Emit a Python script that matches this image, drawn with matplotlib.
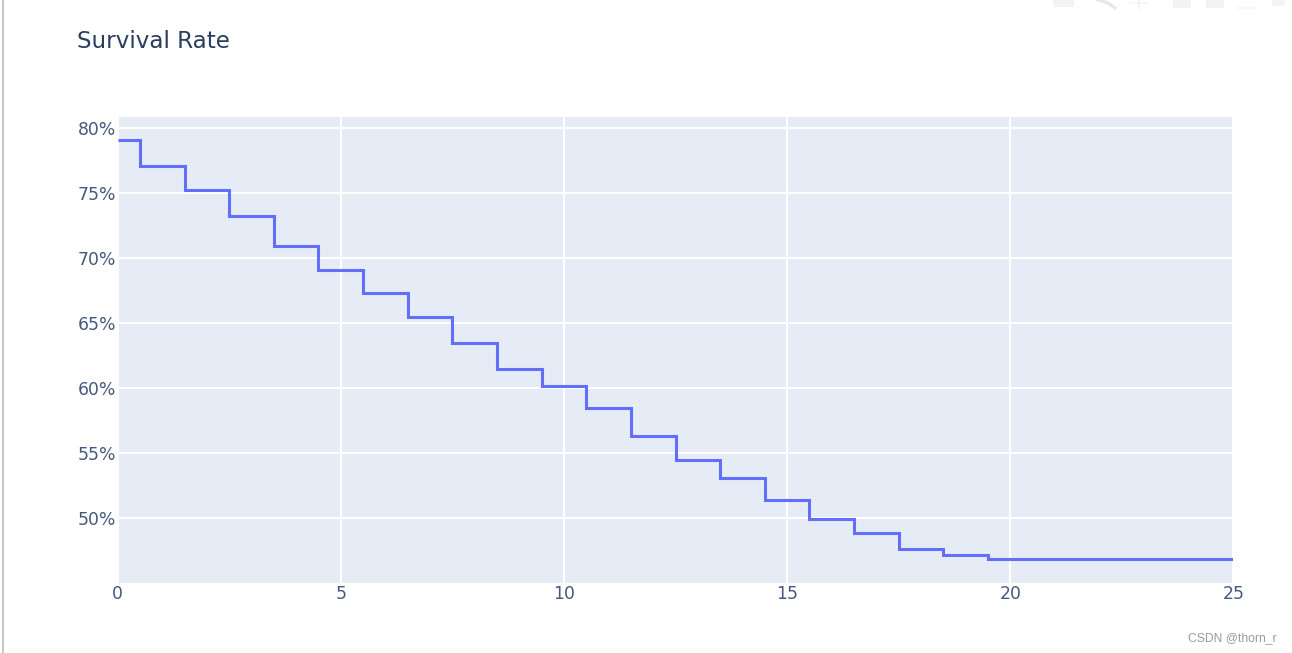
import matplotlib
matplotlib.use("Agg")
import matplotlib.pyplot as plt
from matplotlib.patches import Rectangle
from matplotlib.lines import Line2D

years = list(range(26))
survival = [79.08, 77.08, 75.2, 73.2, 70.95, 69.1, 67.3, 65.45, 63.45, 61.5,
            60.15, 58.5, 56.3, 54.45, 53.05, 51.4, 49.95, 48.85, 47.65, 47.15,
            46.85, 46.85, 46.85, 46.85, 46.85, 46.85]
x_ticks = [0, 5, 10, 15, 20, 25]
y_ticks = [50, 55, 60, 65, 70, 75, 80]
y_labels = ["50%", "55%", "60%", "65%", "70%", "75%", "80%"]
title = "Survival Rate"
watermark = "CSDN @thorn_r"

W, H = 1292, 653
fig = plt.figure(figsize=(W / 100, H / 100), dpi=100, facecolor="white")
ax = fig.add_axes([117.6 / W, 1 - 583 / H, (1233.4 - 117.6) / W, (583 - 117) / H])
ax.set_facecolor("#e5ecf6")
ax.set_xlim(0, 25)
ax.set_ylim(45.0, 80.85)
ax.set_xticks(x_ticks)
ax.set_yticks(y_ticks, y_labels)
ax.grid(True, color="white", linewidth=1.5)
ax.set_axisbelow(True)
for s in ax.spines.values():
    s.set_visible(False)
ax.tick_params(length=0, labelsize=12.4, labelcolor="#46597c")
ax.tick_params(axis="y", pad=1.2)
ax.tick_params(axis="x", pad=1.5)
ax.plot(years, survival, drawstyle="steps-mid", color="#636efa", linewidth=2.2,
        solid_joinstyle="miter", solid_capstyle="butt", clip_on=True)

fig.text(77 / W, 1 - 41 / H, title, fontsize=16.6, color="#2a3f5f", va="center", ha="left")
fig.text(1277 / W, 1 - 638 / H, watermark, fontsize=8.7, color="#9a9a9a", va="center", ha="right",
         family="Liberation Sans")

# window edge at left
fig.add_artist(Line2D([2.5 / W, 2.5 / W], [0, 1], color="#c8c8c8", linewidth=1.5))
# faint modebar icons cropped by the top edge
for x0, x1, y1 in [(1053, 1074, 7), (1173, 1191, 8), (1206, 1224, 8), (1272, 1285, 6)]:
    fig.add_artist(Rectangle((x0 / W, 1 - y1 / H), (x1 - x0) / W, y1 / H, color="#f3f3f3", lw=0))
fig.add_artist(Line2D([1098 / W, 1108 / W, 1115 / W], [1, 1 - 3 / H, 1 - 8 / H], color="#e8e8e8", linewidth=2.4))
fig.add_artist(Line2D([1138.5 / W, 1138.5 / W], [1, 1 - 8 / H], color="#f3f3f3", linewidth=1.5))
fig.add_artist(Line2D([1130 / W, 1147 / W], [1 - 3 / H, 1 - 3 / H], color="#f6f6f6", linewidth=1.2))
fig.add_artist(Line2D([1237 / W, 1257 / W], [1 - 8 / H, 1 - 8 / H], color="#f6f6f6", linewidth=1.2))

fig.savefig("out.png", dpi=100)
